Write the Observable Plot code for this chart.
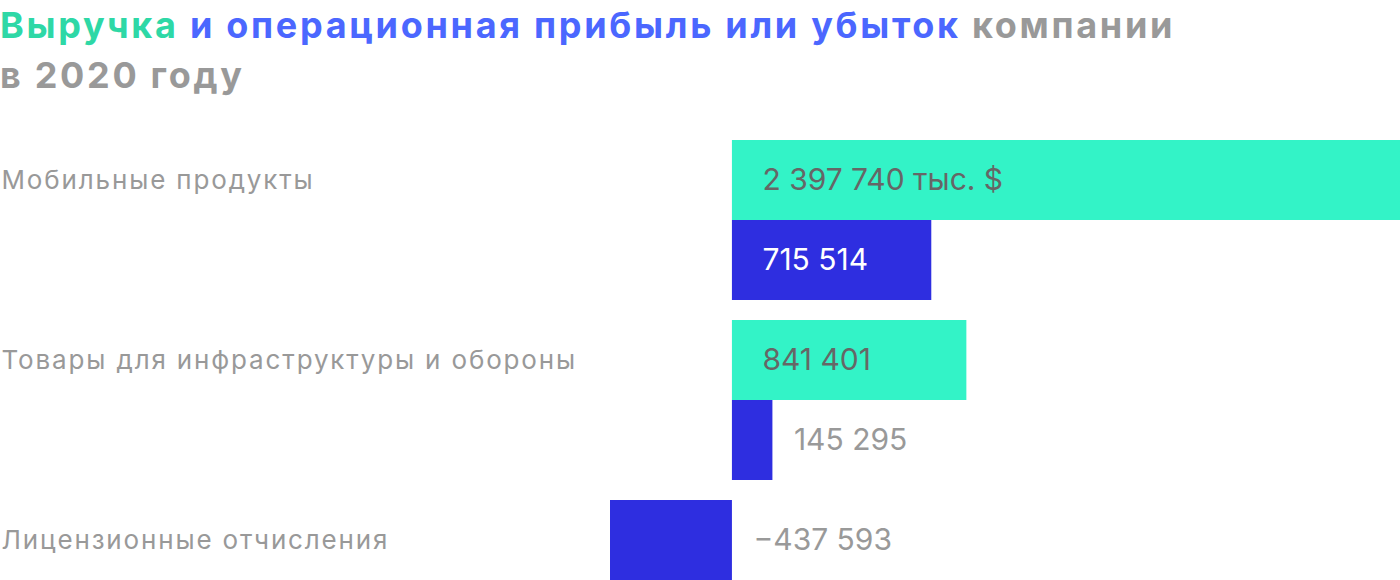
<!DOCTYPE html>
<html>
<head>
<meta charset="utf-8">
<script src="https://cdn.jsdelivr.net/npm/d3@7"></script>
<script src="https://cdn.jsdelivr.net/npm/@observablehq/plot@0.6"></script>
<style>
  html, body { margin: 0; padding: 0; background: #fff; overflow: hidden; width: 1400px; height: 580px; }
  #title { position: absolute; left: 0; top: 0; font-family: Inter, sans-serif; font-weight: 700; font-size: 36px; letter-spacing: 2.7px; line-height: 50px; color: #999; white-space: nowrap; }
  #title .rev { color: #2ED8A6; }
  #title .op { color: #4B67FF; }
  #chart { position: absolute; left: 0; top: 140px; }
</style>
</head>
<body>
<div id="title"><span class="rev">Выручка</span> <span class="op">и операционная прибыль или убыток</span> компании<br>в 2020 году</div>
<div id="chart"></div>
<script>
const categories = ["Мобильные продукты", "Товары для инфраструктуры и обороны", "Лицензионные отчисления"];
const revenue = [2397740, 841401, null];
const operating = [715514, 145295, -437593];
const unitSuffix = " тыс. $";

const fmt = d3.formatLocale({decimal: ",", thousands: "\u00a0", grouping: [3], currency: ["", ""], minus: "\u2212"}).format(",d");

const rows = [];
categories.forEach((c, i) => {
  const bars = [];
  if (revenue[i] != null) bars.push({category: c, metric: "revenue", value: revenue[i]});
  if (operating[i] != null) bars.push({category: c, metric: "operating", value: operating[i]});
  bars.forEach((b, j) => rows.push({...b, slot: j}));
});
rows.forEach((r, k) => { r.label = fmt(r.value) + (k === 0 ? unitSuffix : ""); r.inside = r.value >= 500000; });

const marginLeft = 610;
const colors = {revenue: "#33F3C7", operating: "#2E2EE0"};

const chart = Plot.plot({
  width: 1400,
  height: 520,
  marginLeft,
  marginRight: 0,
  marginTop: 0,
  marginBottom: 0,
  style: {fontFamily: "Inter, sans-serif", background: "transparent"},
  x: {domain: [d3.min(rows, d => Math.min(0, d.value)), d3.max(rows, d => d.value)], axis: null},
  y: {domain: [0, 1], padding: 0, axis: null},
  fy: {domain: categories, paddingInner: 20 / 180, paddingOuter: 0, axis: null, round: false},
  marks: [
    Plot.barX(rows, {fy: "category", y: "slot", x1: 0, x2: "value", fill: d => colors[d.metric], inset: 0}),
    Plot.text(rows.filter(d => d.inside), {fy: "category", y: "slot", x: 0, dx: 30, text: "label", textAnchor: "start", fontSize: 30, fill: d => d.metric === "revenue" ? "#666666" : "#ffffff"}),
    Plot.text(rows.filter(d => !d.inside), {fy: "category", y: "slot", x: d => Math.max(0, d.value), dx: 21, text: "label", textAnchor: "start", fontSize: 30, fill: "#999999"}),
    Plot.text(rows.filter(d => d.slot === 0), {fy: "category", y: "slot", frameAnchor: "left", dx: -marginLeft + 1, text: "category", textAnchor: "start", fontSize: 26, fill: "#999999"})
  ]
});
d3.select(chart).selectAll("text")
  .filter(function() { return categories.includes(this.textContent); })
  .style("letter-spacing", "1.85px");
document.getElementById("chart").appendChild(chart);
</script>
</body>
</html>
